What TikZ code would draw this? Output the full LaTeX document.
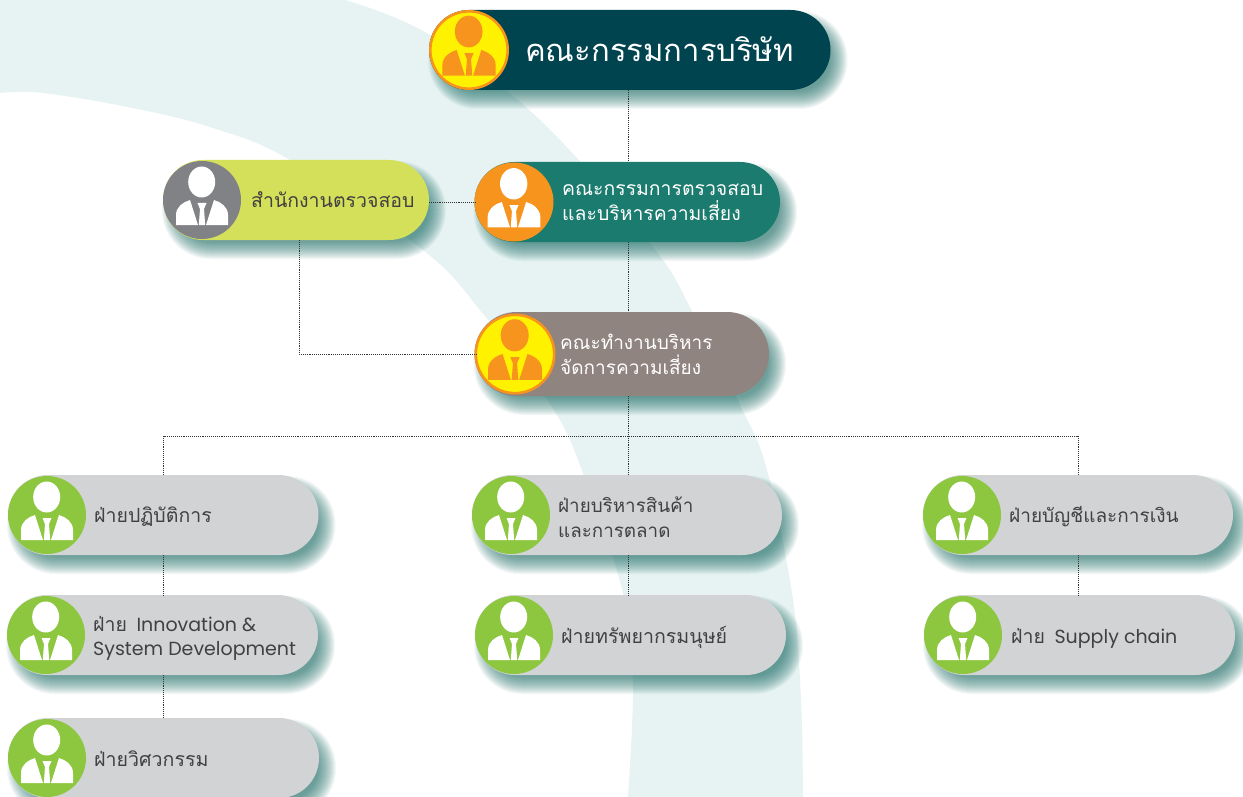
\documentclass[tikz,border=0pt]{standalone}
\usepackage{fontspec}
\usetikzlibrary{shapes.misc}
\newfontfamily\thaifont[Script=Thai]{Loma}
\newfontfamily\latinfont{Poppins}
\definecolor{bgc}{HTML}{E6F3F2}
\definecolor{shadowc}{HTML}{1F6F68}
\definecolor{linkc}{HTML}{333333}
\definecolor{darktxt}{HTML}{414042}
\definecolor{cTeal}{HTML}{00444F}
\definecolor{cGreenTeal}{HTML}{1A7B6E}
\definecolor{cLime}{HTML}{D4E05A}
\definecolor{cGrey}{HTML}{808285}
\definecolor{cBrown}{HTML}{908480}
\definecolor{cYellow}{HTML}{FFF200}
\definecolor{cOrange}{HTML}{F7941E}
\definecolor{cPale}{HTML}{D1D3D4}
\definecolor{cGreen}{HTML}{8DC63F}
\tikzset{
  x=1pt,y=-1pt,
  linkline/.style={densely dotted,line width=0.9pt,draw=linkc},
  pillshape/.style={rounded rectangle,inner sep=0pt,outer sep=0pt,fill=pillc,draw=none},
  headcircle/.style={circle,inner sep=0pt,outer sep=0pt,fill=circc,draw=bordc,line width=2.6pt},
  labeltext/.style={anchor=west,align=left,inner sep=0pt,text=txtc},
}
\newcommand{\usescheme}[5]{\colorlet{pillc}{#1}\colorlet{circc}{#2}\colorlet{bordc}{#3}\colorlet{figc}{#4}\colorlet{txtc}{#5}}
\newcommand{\thsize}[2]{\fontsize{#1}{#2}\selectfont\thaifont}
\newcommand{\latsize}{19}
\newcommand{\lat}[1]{{\latinfont\fontsize{\latsize}{\latsize}\selectfont #1}}
\newcommand{\tshift}{2}
% name, cx, cy, r, right, height, text x, font size+leading, text
\newcommand{\pillbox}[9]{%
  \pgfmathsetmacro{\pl}{#2-#4}%
  \pgfmathsetmacro{\pw}{#5-\pl}%
  \pgfmathsetmacro{\pcx}{(#5+\pl)/2}%
  \foreach \k in {0,...,18}{%
    \pgfmathsetmacro{\sp}{9-\k}%
    \pgfmathsetmacro{\xa}{\pl+8-\sp}%
    \pgfmathsetmacro{\xb}{#5+8+\sp}%
    \pgfmathsetmacro{\ya}{#3-#6/2+10-\sp}%
    \pgfmathsetmacro{\yb}{#3+#6/2+10+\sp}%
    \pgfmathsetmacro{\rr}{#6/2+\sp-0.5}%
    \fill[shadowc,fill opacity=0.05,rounded corners=\rr pt] (\xa,\ya) rectangle (\xb,\yb);
  }%
  \node[pillshape,minimum width=\pw pt,minimum height=#6 pt] (#1) at (\pcx,#3) {};
  \node[headcircle,minimum size=2*#4 pt-2.6pt] (#1-c) at (#2,#3) {};
  \begin{scope}[shift={(#2,#3)},scale=#4/39]
    \fill[figc] (-0.3,-18) ellipse [x radius=13.5,y radius=15.5];
    \fill[figc] (-26,25) -- (-26,15) .. controls (-26,7) and (-19,2) .. (-12,0) -- (-4,25) -- cycle;
    \fill[figc] (26,25) -- (26,15) .. controls (26,7) and (19,2) .. (12,0) -- (4,25) -- cycle;
    \fill[figc] (-4.5,3) -- (4.5,3) -- (2,9) -- (3.2,25) -- (-3.2,25) -- (-2,9) -- cycle;
  \end{scope}
  \node[labeltext,font=\thsize#8] (#1-t) at (#7,#3+\tshift) {#9};
}
\begin{document}
\begin{tikzpicture}
\useasboundingbox (0,0) rectangle (1243,797);
\fill[white] (0,0) rectangle (1243,797);
\begin{scope}
\clip (0,0) rectangle (1243,797);
\fill[bgc] (0,0) -- (345,0)
  -- plot[smooth,tension=0.6] coordinates {(345,0) (430,35) (540,120) (653,247) (693,313) (741,407) (767,470) (793,600) (801,700) (803,797)}
  -- plot[smooth,tension=0.6] coordinates {(628,797) (633,680) (623,593) (583,473) (552,407) (480,310) (423,250) (290,160) (213,128) (133,108) (43,93) (0,93)}
  -- cycle;
\end{scope}
\coordinate (trunk) at (628,0);
\coordinate (colleft) at (163.5,0);
\coordinate (colright) at (1078,0);
\coordinate (coloffice) at (299,0);
\coordinate (busrow) at (0,436);

\renewcommand{\tshift}{-1}
\usescheme{cTeal}{cYellow}{cOrange}{cOrange}{white}
\pillbox{board}{469}{50}{40}{830.5}{80}{525}{{31}{38}}{คณะกรรมการบริษัท}
\renewcommand{\tshift}{0}
\usescheme{cGreenTeal}{cOrange}{cOrange}{white}{white}
\pillbox{audit}{514}{202}{39.5}{780}{80}{562}{{19.4}{25}}{คณะกรรมการตรวจสอบ\\และบริหารความเสี่ยง}
\usescheme{cLime}{cGrey}{cGrey}{white}{darktxt}
\pillbox{office}{202}{200}{39}{429}{80}{251}{{19.5}{25}}{สำนักงานตรวจสอบ}
\usescheme{cBrown}{cYellow}{cOrange}{cOrange}{white}
\pillbox{work}{515}{354}{40.5}{769}{84}{560}{{19}{25}}{คณะทำงานบริหาร\\จัดการความเสี่ยง}
\renewcommand{\tshift}{2}
\usescheme{cPale}{cGreen}{cGreen}{white}{darktxt}
\pillbox{ops}{47}{515}{39}{318.5}{80}{94}{{19.5}{25}}{ฝ่ายปฏิบัติการ}
\renewcommand{\tshift}{3}
\pillbox{innov}{46}{635}{39}{318}{80}{93}{{19.5}{24}}{ฝ่าย\hspace{3pt} \lat{Innovation \&}\\\lat{System Development}}
\renewcommand{\tshift}{1}
\pillbox{eng}{47}{758}{39}{319}{80}{94}{{19.6}{25}}{ฝ่ายวิศวกรรม}
\renewcommand{\tshift}{2}
\pillbox{market}{511}{515}{39}{782}{80}{558}{{18.8}{25}}{ฝ่ายบริหารสินค้า\\และการตลาด}
\pillbox{hr}{514}{635}{39}{786}{80}{561}{{19.6}{25}}{ฝ่ายทรัพยากรมนุษย์}
\pillbox{acct}{962}{515}{39}{1233}{80}{1009}{{19}{25}}{ฝ่ายบัญชีและการเงิน}
\renewcommand{\tshift}{3}
\pillbox{supply}{963}{635}{39}{1235}{80}{1011}{{19.5}{25}}{ฝ่าย\hspace{3pt} \lat{Supply chain}}

\draw[linkline] (board.south -| trunk) -- (audit.north -| trunk);
\draw[linkline] (audit.south -| trunk) -- (work.north -| trunk);
\draw[linkline] (office.east |- audit-c.west) -- (audit-c.west);
\draw[linkline] (office.south -| coloffice) |- (work-c.west);
\draw[linkline] (work.south -| trunk) -- (market.north -| trunk);
\draw[linkline] (colleft |- busrow) -- (colright |- busrow);
\draw[linkline] (colleft |- busrow) -- (ops.north -| colleft);
\draw[linkline] (colright |- busrow) -- (acct.north -| colright);
\draw[linkline] (ops.south -| colleft) -- (innov.north -| colleft);
\draw[linkline] (innov.south -| colleft) -- (eng.north -| colleft);
\draw[linkline] (market.south -| trunk) -- (hr.north -| trunk);
\draw[linkline] (acct.south -| colright) -- (supply.north -| colright);
\end{tikzpicture}
\end{document}
